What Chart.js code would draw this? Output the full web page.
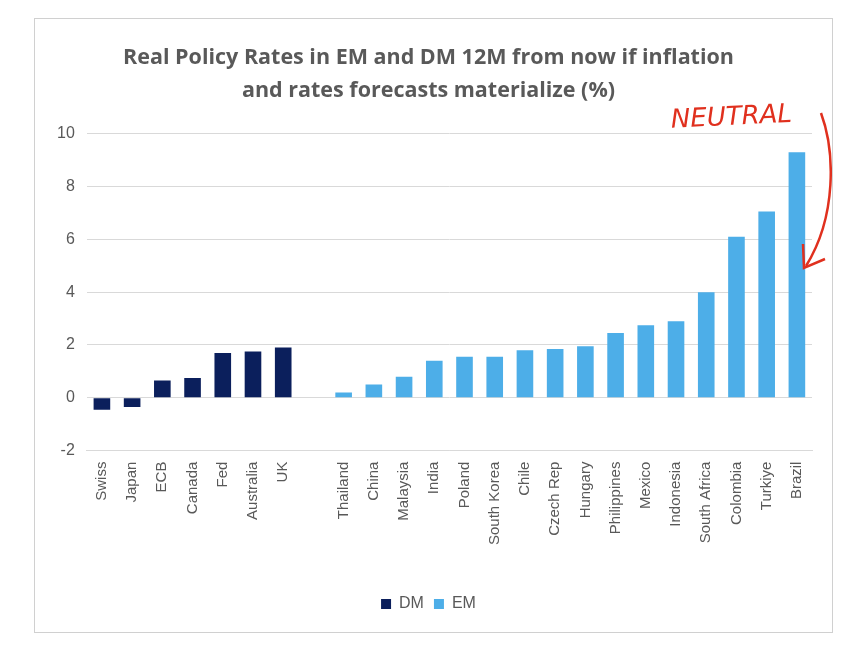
<!DOCTYPE html>
<html><head><meta charset="utf-8">
<script src="https://cdn.jsdelivr.net/npm/chart.js@4"></script>
<style>
body{margin:0;background:#fff}
#box{position:absolute;left:34px;top:18px;width:799px;height:615px;border:1px solid #d0d0d0;box-sizing:border-box}
</style></head><body>
<div id="box"><canvas id="c"></canvas></div>
<script>
const categories = ['Swiss','Japan','ECB','Canada','Fed','Australia','UK','','Thailand','China','Malaysia','India','Poland','South Korea','Chile','Czech Rep','Hungary','Philippines','Mexico','Indonesia','South Africa','Colombia','Turkiye','Brazil']
const dmValues = [-0.45,-0.35,0.65,0.75,1.7,1.75,1.9,null,null,null,null,null,null,null,null,null,null,null,null,null,null,null,null,null]
const emValues = [null,null,null,null,null,null,null,null,0.2,0.5,0.8,1.4,1.55,1.55,1.8,1.85,1.95,2.45,2.75,2.9,4.0,6.1,7.05,9.3]
const yTicks = [-2,0,2,4,6,8,10]

// hand-drawn "NEUTRAL" note with arrow pointing at Brazil
const note = {
  id: 'note',
  afterDraw(chart) {
    const c = chart.ctx
    c.save()
    c.fillStyle = '#e0301e'
    c.strokeStyle = '#e0301e'
    c.font = 'italic 26px "DejaVu Sans"'
    c.translate(-34, -18)
    c.save()
    c.translate(670, 120)
    c.rotate(-0.05)
    c.fillText('NEUTRAL', 0, 0)
    c.restore()
    c.lineWidth = 2.5
    c.beginPath()
    c.moveTo(820, 112)
    c.bezierCurveTo(834, 150, 836, 215, 805, 265)
    c.stroke()
    c.beginPath()
    c.moveTo(802, 243); c.lineTo(803, 267); c.lineTo(824, 258)
    c.stroke()
    c.restore()
  }
}

new Chart(document.getElementById('c'), {
  type: 'bar',
  data: {
    labels: categories,
    datasets: [
      { label: 'DM', data: dmValues, backgroundColor: '#0b1f5c' },
      { label: 'EM', data: emValues, backgroundColor: '#4daee8' }
    ]
  },
  options: {
    responsive: true,
    maintainAspectRatio: false,
    animation: false,
    layout: { padding: { left: 10, right: 20, top: 6, bottom: 10 } },
    scales: {
      x: {
        stacked: true,
        grid: { display: false },
        border: { color: '#d9d9d9' },
        afterFit: s => { s.height += 38 },
        ticks: { color: '#595959', font: { size: 15, family: 'Liberation Sans' }, minRotation: 90, maxRotation: 90, autoSkip: false }
      },
      y: {
        stacked: true,
        min: -2, max: 10,
        afterBuildTicks: s => { s.ticks = yTicks.map(v => ({ value: v })) },
        grid: { color: '#d9d9d9', drawTicks: false },
        border: { display: false },
        ticks: { color: '#595959', padding: 12, font: { size: 16, family: 'Liberation Sans' } }
      }
    },
    datasets: { bar: { categoryPercentage: 0.55, barPercentage: 1 } },
    plugins: {
      title: {
        display: true,
        text: ['Real Policy Rates in EM and DM 12M from now if inflation', 'and rates forecasts materialize (%)'],
        color: '#595959',
        font: { size: 21.5, weight: 'bold', family: 'Open Sans', lineHeight: 1.55 },
        padding: { top: 16, bottom: 26 }
      },
      legend: {
        position: 'bottom',
        labels: { color: '#595959', boxWidth: 10, boxHeight: 10, font: { size: 16, family: 'Liberation Sans' } }
      },
      tooltip: { enabled: false }
    }
  },
  plugins: [note]
})
</script>
</body></html>
